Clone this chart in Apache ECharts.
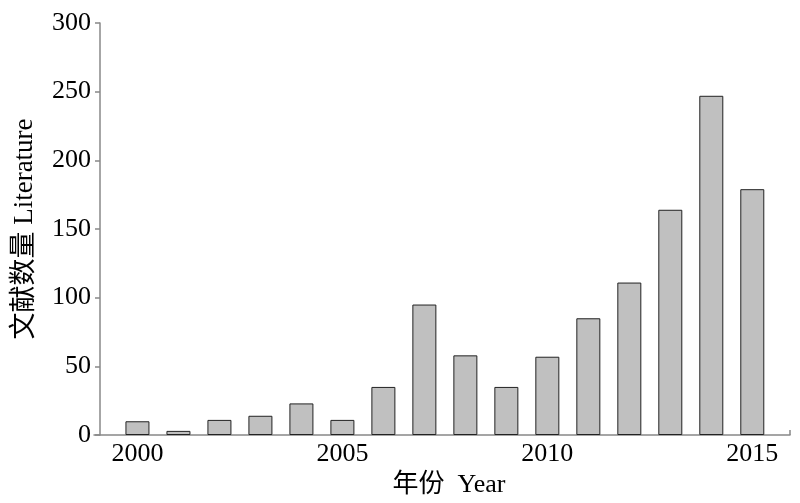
<!DOCTYPE html>
<html>
<head>
<meta charset="utf-8">
<script src="https://cdn.jsdelivr.net/npm/echarts@6/dist/echarts.min.js"></script>
<style>html,body{margin:0;padding:0;background:#fff;}#c{width:800px;height:503px;}</style>
</head>
<body>
<div id="c"></div>
<script>
const years = [2000,2001,2002,2003,2004,2005,2006,2007,2008,2009,2010,2011,2012,2013,2014,2015];
const counts = [10,3,11,14,23,11,35,95,58,35,57,85,111,164,247,179];
const xTickLabels = [2000,2005,2010,2015];
const yTicks = [0,50,100,150,200,250,300];

const FONT = "'Liberation Serif','Times New Roman','Noto Sans CJK SC',serif";
const chart = echarts.init(document.getElementById('c'), null, {renderer:'canvas'});
const xMin = 1998.94, xMax = 2015.92;
chart.setOption({
  animation:false,
  backgroundColor:'#fff',
  grid:{left:94,right:10,top:23,bottom:68,containLabel:false},
  xAxis:{
    type:'value', min:xMin, max:xMax,
    name:'年份  Year', nameLocation:'middle', nameGap:33,
    nameTextStyle:{fontFamily:FONT,fontSize:26,color:'#000',padding:[0,0,0,14]},
    axisLine:{show:true,lineStyle:{color:'#888',width:1.5}},
    axisTick:{show:true,inside:true,length:5,customValues:[xMax],lineStyle:{color:'#888',width:1.5}},
    axisLabel:{customValues:xTickLabels,fontFamily:FONT,fontSize:26,color:'#000',margin:6,formatter:v=>String(v)},
    splitLine:{show:false}
  },
  yAxis:{
    type:'value', min:0, max:300, interval:50, offset:-6,
    name:'文献数量 Literature', nameLocation:'middle', nameGap:62,
    nameTextStyle:{fontFamily:FONT,fontSize:27,color:'#000'},
    axisLine:{show:true,lineStyle:{color:'#888',width:1.5}},
    axisTick:{show:true,length:5,lineStyle:{color:'#888',width:1.5}},
    axisLabel:{fontFamily:FONT,fontSize:26,color:'#000',margin:9},
    splitLine:{show:false}
  },
  series:[{
    type:'bar',
    data:years.map((y,i)=>[y,counts[i]]),
    barWidth:24,
    itemStyle:{color:'#c0c0c0',borderColor:'#222',borderWidth:1}
  }]
});
</script>
</body>
</html>
